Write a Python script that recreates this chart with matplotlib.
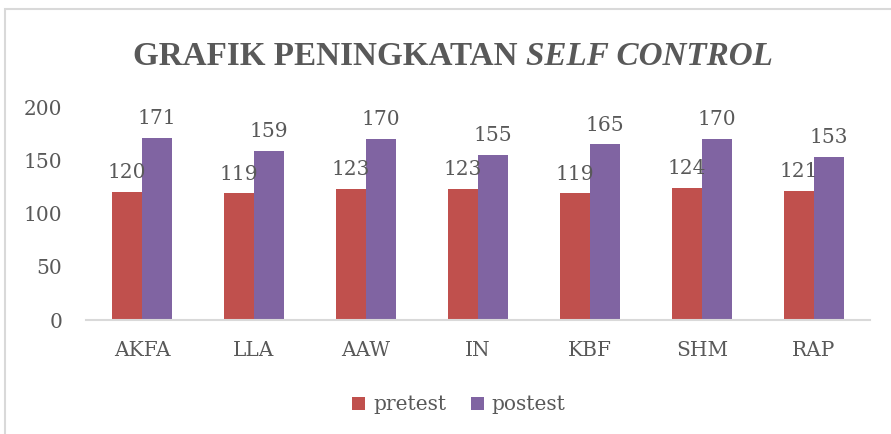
import matplotlib
matplotlib.use("Agg")
import matplotlib.pyplot as plt
from matplotlib.patches import Rectangle
import numpy as np

categories = ["AKFA", "LLA", "AAW", "IN", "KBF", "SHM", "RAP"]
pretest = [120, 119, 123, 123, 119, 124, 121]
postest = [171, 159, 170, 155, 165, 170, 153]
series_names = ["pretest", "postest"]
colors = ["#C0504D", "#8064A2"]
yticks = [0, 50, 100, 150, 200]
title_main = "GRAFIK PENINGKATAN "
title_italic = "SELF CONTROL"

W, H = 891, 434
fig = plt.figure(figsize=(W / 100, H / 100), dpi=100)
fig.patch.set_facecolor("white")

# outer chart border
fig.add_artist(Rectangle((5 / W, -0.05), 2, 1 - 9 / H + 0.05, transform=fig.transFigure,
                         fill=False, edgecolor="#D9D9D9", linewidth=1.5))

ax = fig.add_axes([86 / W, (H - 320) / H, 784 / W, 213 / H])
x = np.arange(len(categories))
w = 0.268
txtcol = "#595959"
serif = "DejaVu Serif"
fs = 14.5

for vals, name, col, off in zip([pretest, postest], series_names, colors, [-w / 2, w / 2]):
    ax.bar(x + off, vals, width=w, color=col, label=name)
    for xi, v in zip(x + off, vals):
        ax.annotate(str(v), (xi, v), xytext=(0, 7), textcoords="offset points",
                    ha="center", va="bottom", fontsize=fs, color=txtcol,
                    family=serif, annotation_clip=False)

ax.set_xlim(-0.5, len(categories) - 0.5)
ax.set_ylim(0, 200)
ax.set_yticks(yticks)
ax.set_xticks(x)
ax.set_xticklabels(categories)
for s in ["left", "right", "top"]:
    ax.spines[s].set_visible(False)
ax.spines["bottom"].set_color("#D9D9D9")
ax.spines["bottom"].set_linewidth(1.5)
ax.tick_params(length=0, labelsize=fs, labelcolor=txtcol)
ax.tick_params(axis="y", pad=17)
ax.tick_params(axis="x", pad=15)
for lab in ax.get_xticklabels() + ax.get_yticklabels():
    lab.set_family(serif)

# title: bold part + bold italic part, fitted to the reference width
tfam = "Liberation Serif"
x0, x1, base = 133, 773, H - 65
t1 = fig.text(x0 / W, base / H, title_main, ha="left", va="baseline", fontsize=20,
              fontweight="bold", color=txtcol, family=tfam)
t2 = fig.text(x0 / W, base / H, title_italic, ha="left", va="baseline", fontsize=20,
              fontweight="bold", style="italic", color=txtcol, family=tfam)
r = fig.canvas.get_renderer()
wid = t1.get_window_extent(r).width + t2.get_window_extent(r).width
tsz = 20 * (x1 - x0) / wid
t1.set_fontsize(tsz)
t2.set_fontsize(tsz)
w1 = t1.get_window_extent(r).width
t2.set_x((x0 + w1) / W)

leg = fig.legend(loc="center", bbox_to_anchor=(0.515, (H - 405) / H), ncol=2, frameon=False,
                 prop={"family": serif, "size": fs}, handlelength=0.65, handleheight=0.65,
                 handletextpad=0.4, columnspacing=1.2)
for t in leg.get_texts():
    t.set_color(txtcol)

fig.savefig("out.png", dpi=100, facecolor="white")
